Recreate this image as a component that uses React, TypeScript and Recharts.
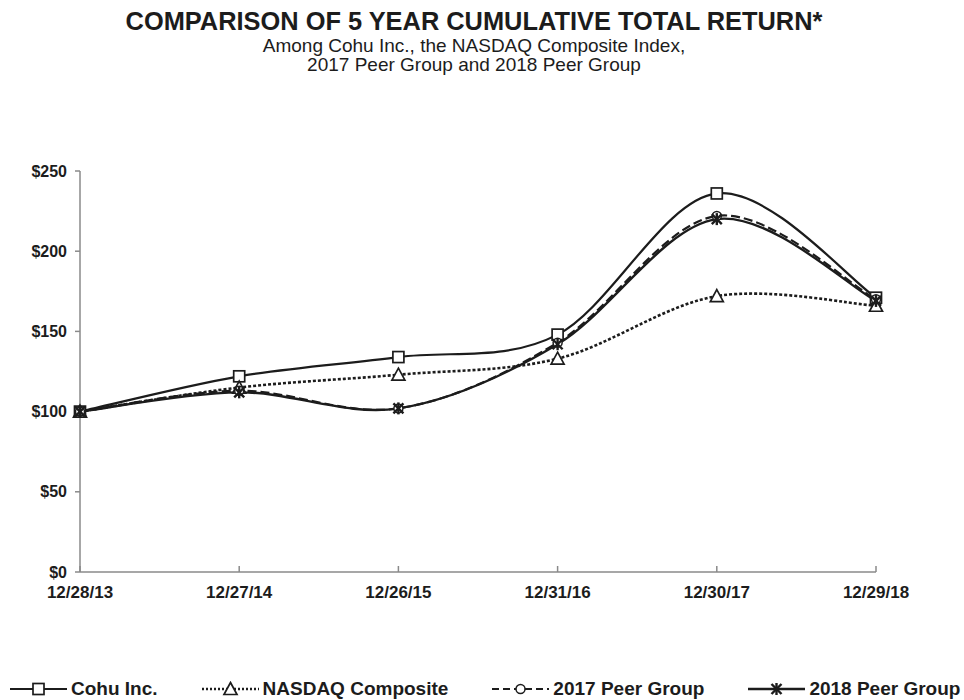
import * as React from "react";
import { LineChart, Line, XAxis, YAxis, Legend } from "recharts";

const dates = ["12/28/13", "12/27/14", "12/26/15", "12/31/16", "12/30/17", "12/29/18"];
const cohu = [100, 122, 134, 148, 236, 171];
const nasdaq = [100, 115, 123, 133, 172, 166];
const peer2017 = [100, 113, 102, 143, 222, 170];
const peer2018 = [100, 112, 102, 142, 220, 169];
const yTicks = [0, 50, 100, 150, 200, 250];

const data = dates.map((d, i) => ({
  date: d,
  cohu: cohu[i],
  nasdaq: nasdaq[i],
  peer2017: peer2017[i],
  peer2018: peer2018[i],
}));

const FONT = "'Liberation Sans', Arial, Helvetica, sans-serif";
const INK = "#1c1c1c";

// Excel-style smoothed line (Catmull-Rom through every point)
const smoothCurve = (context: any) => {
  let xs: number[] = [];
  let ys: number[] = [];
  return {
    areaStart() {},
    areaEnd() {},
    lineStart() {
      xs = [];
      ys = [];
    },
    lineEnd() {
      const n = xs.length;
      if (!n) return;
      context.moveTo(xs[0], ys[0]);
      for (let i = 0; i < n - 1; i++) {
        const a = Math.max(i - 1, 0);
        const b = Math.min(i + 2, n - 1);
        const c1x = xs[i] + (xs[i + 1] - xs[a]) / 6;
        const c1y = ys[i] + (ys[i + 1] - ys[a]) / 6;
        const c2x = xs[i + 1] - (xs[b] - xs[i]) / 6;
        const c2y = ys[i + 1] - (ys[b] - ys[i]) / 6;
        context.bezierCurveTo(c1x, c1y, c2x, c2y, xs[i + 1], ys[i + 1]);
      }
    },
    point(x: number, y: number) {
      xs.push(+x);
      ys.push(+y);
    },
  };
};

type Shape = "square" | "triangle" | "circle" | "star";

function Marker({ shape, cx, cy }: { shape: Shape; cx: number; cy: number }) {
  if (shape === "square")
    return <rect x={cx - 5.5} y={cy - 5.5} width={11} height={11} fill="#fff" stroke={INK} strokeWidth={1.7} />;
  if (shape === "triangle")
    return (
      <polygon
        points={`${cx},${cy - 6.5} ${cx + 6.5},${cy + 5.5} ${cx - 6.5},${cy + 5.5}`}
        fill="#fff"
        stroke={INK}
        strokeWidth={1.7}
      />
    );
  if (shape === "circle") return <circle cx={cx} cy={cy} r={4.5} fill="#fff" stroke={INK} strokeWidth={1.5} />;
  return (
    <g stroke={INK} strokeWidth={2.4}>
      <line x1={cx - 5} y1={cy - 5} x2={cx + 5} y2={cy + 5} />
      <line x1={cx - 5} y1={cy + 5} x2={cx + 5} y2={cy - 5} />
      <line x1={cx} y1={cy - 6} x2={cx} y2={cy + 6} />
    </g>
  );
}

const series = [
  { key: "cohu", name: "Cohu Inc.", shape: "square" as Shape, dash: undefined, width: 2.2 },
  { key: "nasdaq", name: "NASDAQ Composite", shape: "triangle" as Shape, dash: "3 2", width: 2.6 },
  { key: "peer2017", name: "2017 Peer Group", shape: "circle" as Shape, dash: "9 4", width: 2.2 },
  { key: "peer2018", name: "2018 Peer Group", shape: "star" as Shape, dash: undefined, width: 2.4 },
];

function LegendContent() {
  return (
    <div style={{ display: "flex", gap: 44, paddingLeft: 10, alignItems: "center", whiteSpace: "nowrap", height: 22 }}>
      {series.map((s) => (
        <div key={s.key} style={{ display: "flex", alignItems: "center", gap: 4 }}>
          <svg width={57} height={16}>
            <line
              x1={0}
              y1={8}
              x2={57}
              y2={8}
              stroke={INK}
              strokeWidth={s.width}
              strokeDasharray={s.key === "nasdaq" ? "2 2" : s.key === "peer2017" ? "7 4" : undefined}
            />
            <Marker shape={s.shape} cx={28.5} cy={8} />
          </svg>
          <span style={{ fontFamily: FONT, fontWeight: 700, fontSize: 19, color: INK }}>{s.name}</span>
        </div>
      ))}
    </div>
  );
}

export default function App() {
  return (
    <div style={{ position: "absolute", left: 0, top: 0, width: 964, height: 700, background: "#fff" }}>
      <div
        style={{
          position: "absolute",
          left: 0,
          top: 6,
          width: 948,
          textAlign: "center",
          fontFamily: FONT,
          color: INK,
        }}
      >
        <div style={{ fontWeight: 700, fontSize: 25.4, lineHeight: "30px" }}>
          COMPARISON OF 5 YEAR CUMULATIVE TOTAL RETURN*
        </div>
        <div style={{ fontSize: 19, lineHeight: "19px" }}>Among Cohu Inc., the NASDAQ Composite Index,</div>
        <div style={{ fontSize: 19, lineHeight: "19px" }}>2017 Peer Group and 2018 Peer Group</div>
      </div>
      <LineChart
        width={964}
        height={700}
        data={data}
        margin={{ top: 171, right: 88, left: 10, bottom: 0 }}
        style={{ position: "absolute", left: 0, top: 0 }}
      >
        <XAxis
          dataKey="date"
          height={106}
          stroke="#8a8a8a"
          strokeWidth={1.5}
          tickSize={-6}
          tickMargin={20}
          tick={{ fill: INK, fontFamily: FONT, fontWeight: 700, fontSize: 17 }}
          interval={0}
        />
        <YAxis
          domain={[0, 250]}
          ticks={yTicks}
          width={70}
          stroke="#8a8a8a"
          strokeWidth={1.5}
          tickSize={5}
          tickMargin={8}
          tickFormatter={(v: number) => `$${v}`}
          tick={{ fill: INK, fontFamily: FONT, fontWeight: 700, fontSize: 16 }}
        />
        {series.map((s) => (
          <Line
            key={s.key}
            dataKey={s.key}
            name={s.name}
            type={smoothCurve as any}
            stroke={INK}
            strokeWidth={s.width}
            strokeDasharray={s.dash}
            isAnimationActive={false}
            dot={(p: any) => <Marker key={`${s.key}-${p.index}`} shape={s.shape} cx={p.cx} cy={p.cy} />}
            activeDot={false}
          />
        ))}
        <Legend
          verticalAlign="bottom"
          align="left"
          wrapperStyle={{ width: 964, left: 0 }}
          content={<LegendContent />}
        />
      </LineChart>
    </div>
  );
}
